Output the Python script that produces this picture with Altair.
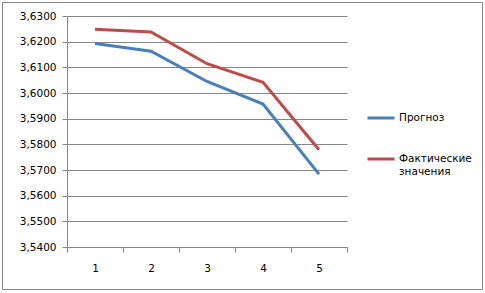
import altair as alt
import pandas as pd

categories = ["1", "2", "3", "4", "5"]
forecast = [3.6193, 3.6163, 3.6045, 3.5957, 3.5684]
actual = [3.6248, 3.6238, 3.6114, 3.6042, 3.5779]
series_names = ["Прогноз", "Фактические значения"]
colors = ["#4A7EBB", "#BE4B48"]
y_ticks = [3.54, 3.55, 3.56, 3.57, 3.58, 3.59, 3.60, 3.61, 3.62, 3.63]

rows = []
for c, f, a in zip(categories, forecast, actual):
    rows.append({"cat": c, "series": series_names[0], "value": f})
    rows.append({"cat": c, "series": series_names[1], "value": a})
df = pd.DataFrame(rows)

GRAY = "#868686"
FONT = "DejaVu Sans"

lines = alt.Chart(df).mark_line(strokeWidth=3).encode(
    x=alt.X(
        "cat:O",
        sort=categories,
        scale=alt.Scale(type="band", paddingInner=0, paddingOuter=0),
        axis=alt.Axis(
            title=None, labelAngle=0, tickBand="extent", grid=False,
            domainColor=GRAY, tickColor=GRAY, tickSize=5, labelPadding=11,
            labelFont=FONT, labelFontSize=10.5, labelColor="#000000",
        ),
    ),
    y=alt.Y(
        "value:Q",
        scale=alt.Scale(domain=[3.54, 3.63], nice=False, zero=False),
        axis=alt.Axis(
            title=None, values=y_ticks, grid=True, gridColor=GRAY,
            domainColor=GRAY, tickColor=GRAY, tickSize=5, labelPadding=6,
            labelExpr="replace(format(datum.value, '.4f'), '.', ',')",
            labelFont=FONT, labelFontSize=10.5, labelColor="#000000",
        ),
    ),
    color=alt.Color(
        "series:N",
        sort=series_names,
        scale=alt.Scale(domain=series_names, range=colors),
        legend=alt.Legend(
            title=None, orient="none", legendX=299, legendY=87,
            symbolType="stroke", symbolSize=729, symbolStrokeWidth=3,
            labelFont=FONT, labelFontSize=10.5, labelColor="#000000",
            labelExpr="datum.label == 'Фактические значения' ? ['Фактические', 'значения'] : datum.label",
            rowPadding=20, padding=0, labelOffset=3,
        ),
    ),
)

border = alt.Chart(pd.DataFrame({"a": [0]})).mark_rect(
    fill=None, stroke=GRAY, strokeWidth=1
).encode(
    x=alt.value(-64.5), x2=alt.value(415.5), y=alt.value(-13.5), y2=alt.value(273.5)
)

chart = alt.layer(lines, border).properties(
    width=280, height=231,
    autosize=alt.AutoSizeParams(type="none"),
    padding={"left": 67, "top": 16, "right": 138, "bottom": 46},
    background="#ffffff",
).configure_view(stroke=None)

chart.save("out.html", embed_options={"renderer": "svg", "actions": False})
